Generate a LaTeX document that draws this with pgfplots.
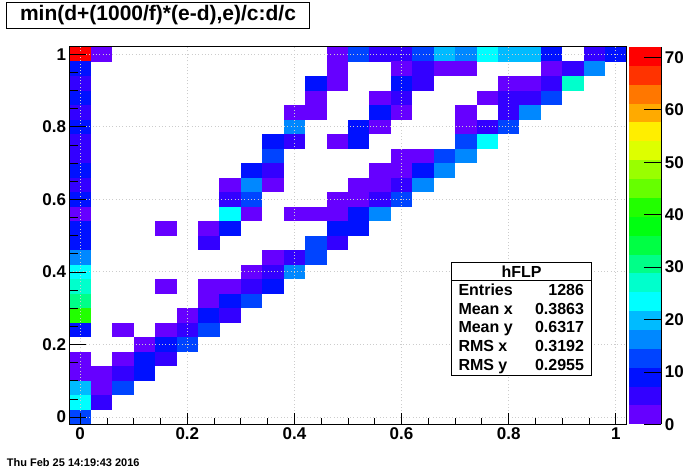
\documentclass[border=0pt]{standalone}
\usepackage{fontspec}
\setmainfont{Liberation Sans}
\usepackage{pgfplots}
\pgfplotsset{compat=1.18}

% ROOT-like palette, 20 levels over 0..72
\pgfplotsset{
  colormap={rootpal}{
    rgb255=(102,0,255) rgb255=(51,0,255) rgb255=(0,17,255) rgb255=(0,68,255)
    rgb255=(0,136,255) rgb255=(0,187,255) rgb255=(0,255,255) rgb255=(0,255,204)
    rgb255=(0,255,136) rgb255=(0,255,68) rgb255=(0,255,17) rgb255=(34,255,0)
    rgb255=(102,255,0) rgb255=(153,255,0) rgb255=(221,255,0) rgb255=(255,238,0)
    rgb255=(255,170,0) rgb255=(255,119,0) rgb255=(255,51,0) rgb255=(255,0,0)
  },
}
\pgfdeclareplotmark{cell}{%
  \pgfpathrectangle{\pgfpoint{-10.75pt}{-7.28pt}}{\pgfpoint{21.5pt}{14.56pt}}%
  \pgfusepathqfill}
\pgfdeclareplotmark{band}{%
  \pgfpathrectangle{\pgfpoint{-16.15pt}{-9.46pt}}{\pgfpoint{32.3pt}{18.92pt}}%
  \pgfusepathqfill}
\newcommand{\rootfont}[1]{\fontsize{#1}{#1}\selectfont\bfseries}

\begin{document}
\begin{tikzpicture}[x=1pt,y=1pt]
\useasboundingbox (0,0) rectangle (696,472);

\begin{axis}[
  at={(69.5pt,47.7pt)}, anchor=south west,
  scale only axis, width=557pt, height=377.3pt,
  xmin=-0.02, xmax=1.02, ymin=-0.02, ymax=1.02,
  xtick={0,0.2,0.4,0.6,0.8,1}, ytick={0,0.2,0.4,0.6,0.8,1},
  xticklabels={0,0.2,0.4,0.6,0.8,1}, yticklabels={0,0.2,0.4,0.6,0.8,1},
  minor tick num=3,
  tick align=inside, tick pos=lower,
  axis on top, clip marker paths=true,
  grid=major,
  grid style={gray!40, line width=1pt, dash pattern=on 1pt off 2.3pt},
  axis line style={line width=1pt},
  xtick style={black, line width=0.8pt, /pgfplots/major tick length=11pt, /pgfplots/minor tick length=6pt},
  ytick style={black, line width=0.8pt, /pgfplots/major tick length=16.7pt, /pgfplots/minor tick length=8.5pt},
  ticklabel style={font=\rootfont{17}},
  colormap name=rootpal, colormap access=piecewise constant,
  point meta min=0, point meta max=72,
]
\addplot[scatter, only marks, mark=cell, point meta=explicit,
  scatter/use mapped color={draw=none, fill=mapped color}] coordinates {
% y=1.00
(0,1)[70] (.04,1)[2] (.48,1)[2] (.52,1)[12] (.56,1)[5] (.60,1)[5] (.64,1)[12] (.68,1)[20] (.72,1)[16] (.76,1)[23] (.80,1)[20] (.84,1)[20] (.88,1)[9] (.96,1)[5] (1,1)[9]
% y=0.96
(0,.96)[9] (.48,.96)[2] (.60,.96)[2] (.64,.96)[5] (.68,.96)[2] (.72,.96)[2] (.88,.96)[2] (.92,.96)[5] (.96,.96)[16]
% y=0.92
(0,.92)[5] (.44,.92)[9] (.48,.92)[2] (.60,.92)[9] (.64,.92)[5] (.80,.92)[2] (.84,.92)[2] (.88,.92)[5] (.92,.92)[27]
% y=0.88
(0,.88)[9] (.44,.88)[2] (.56,.88)[2] (.60,.88)[5] (.76,.88)[2] (.80,.88)[5] (.84,.88)[5] (.88,.88)[12]
% y=0.84
(0,.84)[5] (.40,.84)[2] (.44,.84)[2] (.56,.84)[9] (.60,.84)[2] (.72,.84)[2] (.80,.84)[5] (.84,.84)[16]
% y=0.80
(0,.80)[9] (.40,.80)[16] (.52,.80)[9] (.56,.80)[2] (.72,.80)[2] (.76,.80)[5] (.80,.80)[12]
% y=0.76
(0,.76)[5] (.36,.76)[9] (.40,.76)[5] (.48,.76)[2] (.52,.76)[9] (.72,.76)[12] (.76,.76)[23]
% y=0.72
(0,.72)[5] (.36,.72)[12] (.60,.72)[2] (.64,.72)[2] (.68,.72)[12] (.72,.72)[16]
% y=0.68
(0,.68)[9] (.32,.68)[9] (.36,.68)[5] (.56,.68)[2] (.60,.68)[2] (.64,.68)[9] (.68,.68)[16]
% y=0.64
(0,.64)[5] (.28,.64)[2] (.32,.64)[16] (.36,.64)[2] (.52,.64)[2] (.56,.64)[2] (.60,.64)[5] (.64,.64)[16]
% y=0.60
(0,.60)[9] (.28,.60)[5] (.32,.60)[12] (.48,.60)[2] (.52,.60)[2] (.56,.60)[5] (.60,.60)[12]
% y=0.56
(0,.56)[2] (.28,.56)[23] (.32,.56)[2] (.40,.56)[2] (.44,.56)[2] (.48,.56)[2] (.52,.56)[9] (.56,.56)[16]
% y=0.52
(0,.52)[9] (.16,.52)[2] (.24,.52)[2] (.28,.52)[9] (.48,.52)[9] (.52,.52)[9]
% y=0.48
(0,.48)[9] (.24,.48)[5] (.44,.48)[12] (.48,.48)[5]
% y=0.44
(0,.44)[16] (.36,.44)[2] (.40,.44)[5] (.44,.44)[12]
% y=0.40
(0,.40)[23] (.32,.40)[2] (.36,.40)[5] (.40,.40)[16]
% y=0.36
(0,.36)[27] (.16,.36)[2] (.24,.36)[2] (.28,.36)[2] (.32,.36)[5] (.36,.36)[9]
% y=0.32
(0,.32)[30] (.24,.32)[2] (.28,.32)[9] (.32,.32)[12]
% y=0.28
(0,.28)[41] (.20,.28)[2] (.24,.28)[9] (.28,.28)[5]
% y=0.24
(0,.24)[9] (.08,.24)[2] (.16,.24)[2] (.20,.24)[5] (.24,.24)[12]
% y=0.20
(.12,.20)[2] (.16,.20)[9] (.20,.20)[12]
% y=0.16
(0,.16)[2] (.08,.16)[2] (.12,.16)[9] (.16,.16)[5]
% y=0.12
(0,.12)[2] (.04,.12)[2] (.08,.12)[5] (.12,.12)[9]
% y=0.08
(0,.08)[20] (.04,.08)[2] (.08,.08)[12]
% y=0.04
(0,.04)[23] (.04,.04)[5]
% y=0.00
(0,0)[12]
};
\end{axis}

% palette
\begin{axis}[
  at={(629pt,47.7pt)}, anchor=south west,
  scale only axis, width=32.3pt, height=377.3pt,
  xmin=0, xmax=1, ymin=0, ymax=72,
  axis x line=none, axis y line=right,
  y axis line style={-, line width=1pt},
  ytick={0,10,20,30,40,50,60,70},
  yticklabels={0,10,20,30,40,50,60,70},
  tick align=inside, axis on top, clip marker paths=true,
  ytick style={black, line width=0.8pt, /pgfplots/major tick length=17pt},
  yticklabel style={font=\rootfont{17}, anchor=west},
  colormap name=rootpal, colormap access=piecewise constant,
  point meta min=0, point meta max=72,
]
\addplot[scatter, only marks, mark=band, point meta=y,
  scatter/use mapped color={draw=none, fill=mapped color}] coordinates {
(.5,1.8) (.5,5.4) (.5,9) (.5,12.6) (.5,16.2) (.5,19.8) (.5,23.4) (.5,27) (.5,30.6) (.5,34.2)
(.5,37.8) (.5,41.4) (.5,45) (.5,48.6) (.5,52.2) (.5,55.8) (.5,59.4) (.5,63) (.5,66.6) (.5,70.2)
};
\end{axis}

% title box
\draw[line width=1pt, fill=white] (6.3,443.7) rectangle (309.7,469.7);
\node[font=\rootfont{21}] at (158,457) {min(d+(1000/f)*(e-d),e)/c:d/c};

% stats box
\draw[line width=1pt, fill=white] (451.7,96.7) rectangle (591.3,209.7);
\draw[line width=1pt] (451.7,191.7) -- (591.3,191.7);
\node[font=\rootfont{16}] at (521.5,200.5) {hFLP};
\foreach \ya/\lab/\val in {182/Entries/1286, 163/Mean x/0.3863, 145.3/Mean y/0.6317, 126/RMS x/0.3192, 107.7/RMS y/0.2955}{
  \node[font=\rootfont{16}, anchor=base west, inner sep=0pt] at (458.3,\ya-5.7) {\lab};
  \node[font=\rootfont{16}, anchor=base east, inner sep=0pt] at (584.2,\ya-5.7) {\val};
}

% date
\node[font=\rootfont{11}, anchor=west, inner sep=0pt] at (6.7,9.3) {Thu Feb 25 14:19:43 2016};
\end{tikzpicture}
\end{document}
